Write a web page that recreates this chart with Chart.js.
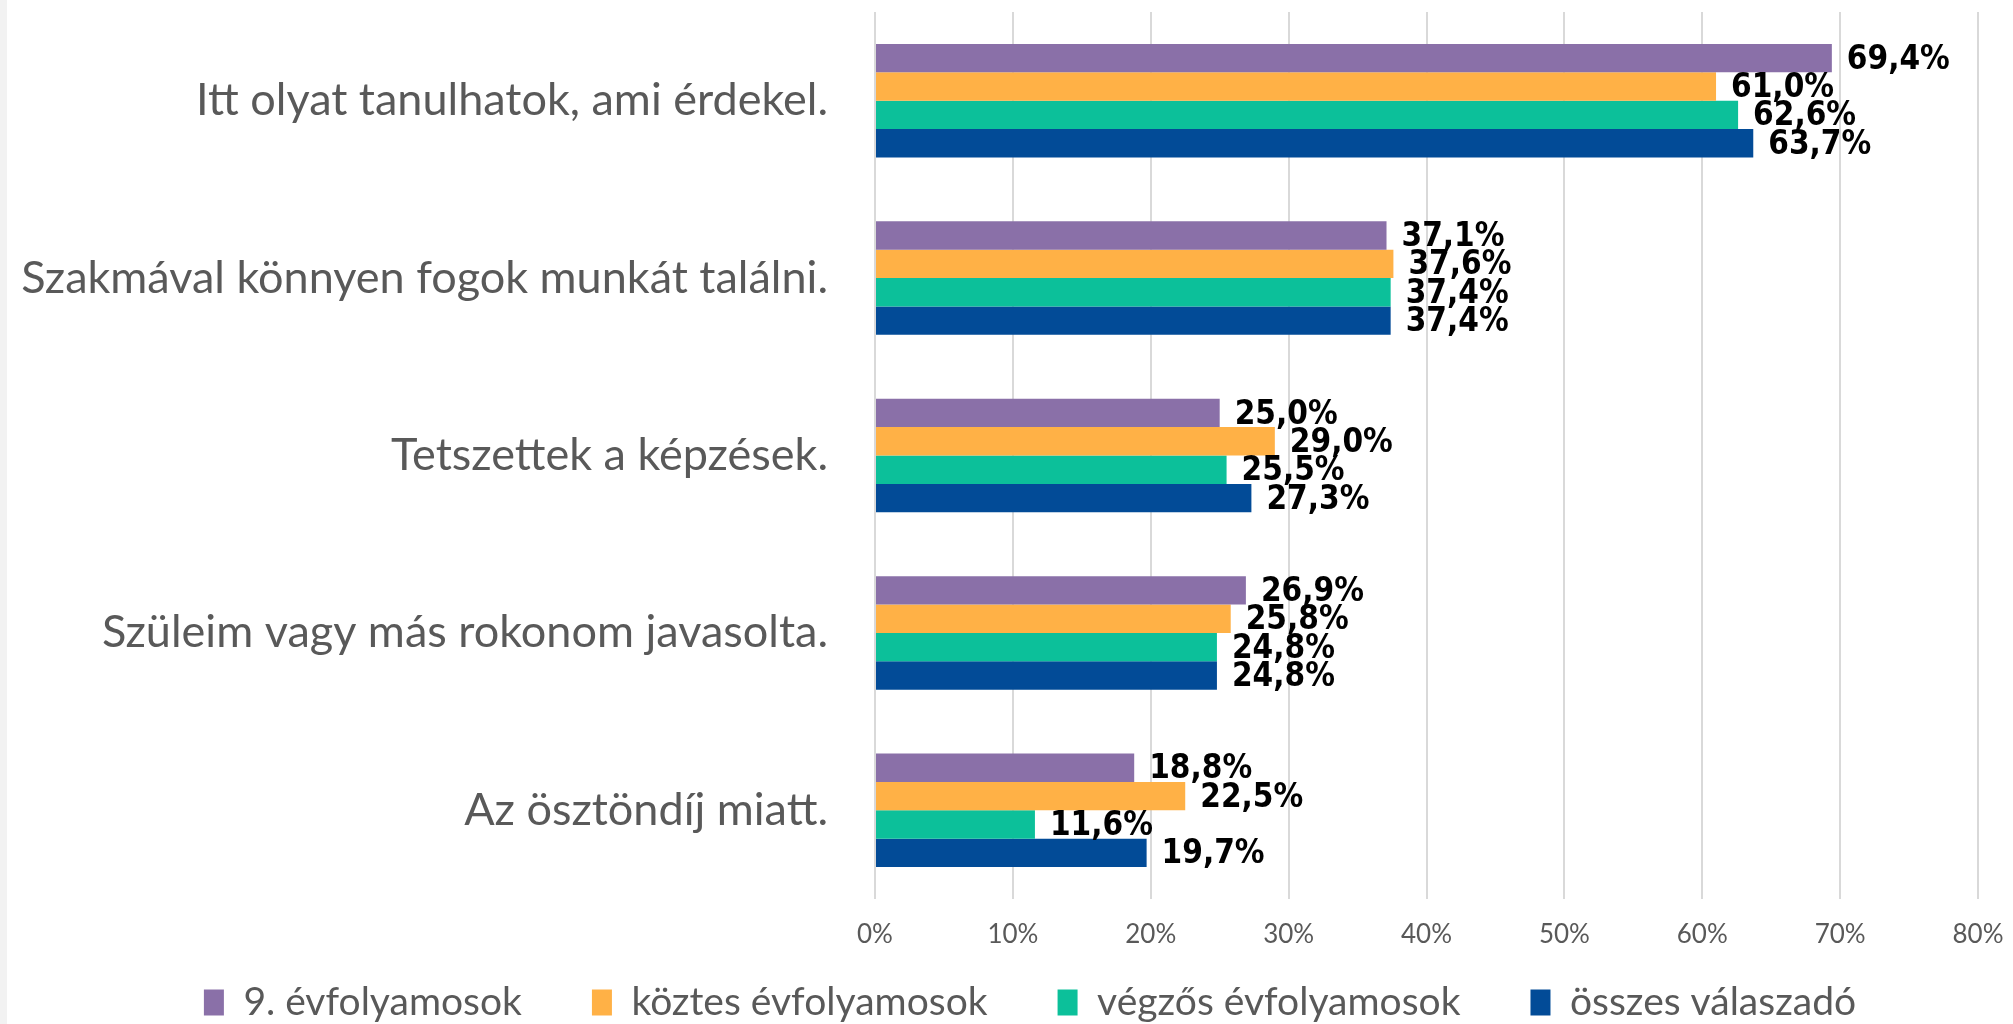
<!DOCTYPE html>
<html>
<head>
<meta charset="utf-8">
<script src="https://cdn.jsdelivr.net/npm/chart.js@4.4.1/dist/chart.umd.min.js"></script>
<style>
  html, body { margin: 0; padding: 0; background: #fff; }
  canvas { display: block; }
</style>
</head>
<body>
<canvas id="chart" width="2013" height="1024"></canvas>
<script>
// data
const categories = [
  'Itt olyat tanulhatok, ami érdekel.',
  'Szakmával könnyen fogok munkát találni.',
  'Tetszettek a képzések.',
  'Szüleim vagy más rokonom javasolta.',
  'Az ösztöndíj miatt.'
];
const seriesNames = ['9. évfolyamosok', 'köztes évfolyamosok', 'végzős évfolyamosok', 'összes válaszadó'];
const grade9 = [69.4, 37.1, 25.0, 26.9, 18.8];
const middleGrades = [61.0, 37.6, 29.0, 25.8, 22.5];
const finalGrades = [62.6, 37.4, 25.5, 24.8, 11.6];
const allRespondents = [63.7, 37.4, 27.3, 24.8, 19.7];
const xMax = 80;
const xStep = 10;

const colors = ['#8A70A8', '#FFB146', '#0CC09A', '#024B97'];
const textGrey = '#595959';

const fmt = v => v.toFixed(1).replace('.', ',') + '%';

// white background + light strip on the left edge
const background = {
  id: 'background',
  beforeDraw(chart) {
    const ctx = chart.ctx;
    ctx.save();
    ctx.fillStyle = '#fff';
    ctx.fillRect(0, 0, chart.width, chart.height);
    ctx.fillStyle = '#F2F2F2';
    ctx.fillRect(0, 0, 7, chart.height);
    ctx.restore();
  }
};

// legend keeps wide item spacing but its box reaches up over the tick area
const legendShift = {
  id: 'legendShift',
  afterLayout(chart) {
    const lg = chart.legend;
    lg.top -= 50;
    lg.height += 50;
    lg.left += 41;
    lg.right += 41;
  }
};

// value labels at the end of each bar
const valueLabels = {
  id: 'valueLabels',
  afterDatasetsDraw(chart) {
    const ctx = chart.ctx;
    ctx.save();
    ctx.font = 'bold 33px "DejaVu Sans Condensed", "DejaVu Sans", sans-serif';
    ctx.fillStyle = '#000';
    ctx.textBaseline = 'middle';
    ctx.textAlign = 'left';
    chart.data.datasets.forEach((ds, i) => {
      chart.getDatasetMeta(i).data.forEach((bar, j) => {
        ctx.fillText(fmt(ds.data[j]), bar.x + 15, bar.y + 2);
      });
    });
    ctx.restore();
  }
};

const seriesData = [grade9, middleGrades, finalGrades, allRespondents];

new Chart(document.getElementById('chart').getContext('2d'), {
  type: 'bar',
  data: {
    labels: categories,
    datasets: seriesNames.map((name, i) => ({
      label: name,
      data: seriesData[i],
      backgroundColor: colors[i],
      borderWidth: 0,
      categoryPercentage: 0.64,
      barPercentage: 1.0
    }))
  },
  options: {
    indexAxis: 'y',
    responsive: false,
    animation: false,
    devicePixelRatio: 1,
    layout: { padding: { top: 12, right: 35, left: 0, bottom: 0 } },
    scales: {
      x: {
        min: 0,
        max: xMax,
        ticks: {
          stepSize: xStep,
          callback: v => v + '%',
          color: textGrey,
          font: { family: 'Lato', size: 26 },
          padding: 20
        },
        grid: { color: '#D9D9D9', lineWidth: 2, drawTicks: false },
        border: { display: false },
        afterFit: s => { s.height = 64; s.paddingLeft = 0; s.paddingRight = 0; }
      },
      y: {
        ticks: {
          color: textGrey,
          font: { family: 'Lato', size: 45 },
          padding: 47
        },
        grid: { display: false, drawTicks: false },
        border: { display: false },
        afterFit: s => { s.width = 875; s.paddingTop = 0; s.paddingBottom = 0; }
      }
    },
    plugins: {
      legend: {
        position: 'bottom',
        maxHeight: 61,
        labels: {
          color: textGrey,
          font: { family: 'Lato', size: 39 },
          boxWidth: 20,
          boxHeight: 26,
          padding: 70
        }
      },
      tooltip: { enabled: false }
    }
  },
  plugins: [background, legendShift, valueLabels]
});
</script>
</body>
</html>
